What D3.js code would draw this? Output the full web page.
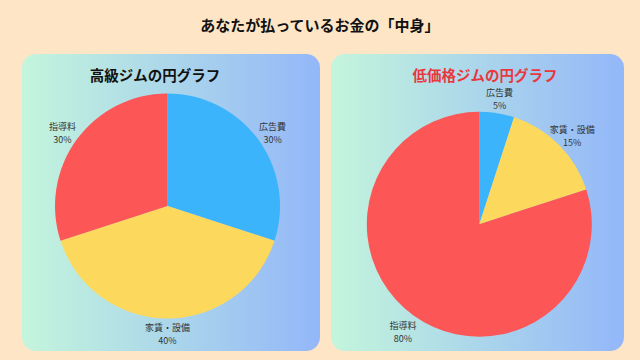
<!DOCTYPE html>
<html><head><meta charset="utf-8">
<script src="https://cdn.jsdelivr.net/npm/d3@7/dist/d3.min.js"></script>
<style>
html,body{margin:0;padding:0;background:#fde5c6;}
svg{display:block;}
text{font-family:"Noto Sans CJK JP","Noto Sans",sans-serif;}
</style></head>
<body>
<svg id="c" width="640" height="360"></svg>
<script>
const mainTitle = "あなたが払っているお金の「中身」";
const chartTitles = ["高級ジムの円グラフ", "低価格ジムの円グラフ"];
const categoriesHigh = ["広告費", "家賃・設備", "指導料"];
const valuesHigh = [30, 40, 30];
const categoriesLow = ["広告費", "家賃・設備", "指導料"];
const valuesLow = [5, 15, 80];
const sliceColors = {"広告費": "#3cb4fc", "家賃・設備": "#fcd95c", "指導料": "#fc5656"};

const svg = d3.select("#c");
const defs = svg.append("defs");
const grad = defs.append("linearGradient").attr("id","pg").attr("x1","0%").attr("x2","100%").attr("y1","0%").attr("y2","0%");
grad.append("stop").attr("offset","0%").attr("stop-color","#c4f5dc");
grad.append("stop").attr("offset","100%").attr("stop-color","#93b7f9");

svg.append("rect").attr("width",640).attr("height",360).attr("fill","#fde5c6");
svg.append("text").attr("x",320).attr("y",31).attr("text-anchor","middle")
  .attr("font-size",15).attr("font-weight","bold").attr("fill","#111").text(mainTitle);

const panels = [
  {x:22, y:54, w:298, h:297, cx:167.5, cy:206, r:112.5, title:chartTitles[0], tx:155, tcol:"#111", cats:categoriesHigh, vals:valuesHigh},
  {x:331, y:54, w:293, h:297, cx:479.3, cy:224.2, r:112.5, title:chartTitles[1], tx:485, tcol:"#e8383d", cats:categoriesLow, vals:valuesLow}
];

panels.forEach(p => {
  svg.append("rect").attr("x",p.x).attr("y",p.y).attr("width",p.w).attr("height",p.h)
    .attr("rx",14).attr("fill","url(#pg)");
  svg.append("text").attr("x",p.tx).attr("y",80.5).attr("text-anchor","middle")
    .attr("font-size",14.5).attr("font-weight","bold").attr("fill",p.tcol).text(p.title);
  const data = p.cats.map((c,i)=>({cat:c, v:p.vals[i]}));
  const pie = d3.pie().value(d=>d.v).sort(null);
  const arcs = pie(data);
  const arc = d3.arc().innerRadius(0).outerRadius(p.r);
  const g = svg.append("g").attr("transform",`translate(${p.cx},${p.cy})`);
  g.selectAll("path").data(arcs).join("path").attr("d",arc).attr("fill",d=>sliceColors[d.data.cat]);
  const angs = arcs.map(a => (a.startAngle + a.endAngle)/2);
  const minSep = 0.64;
  for (let i=1;i<angs.length;i++){ if (angs[i]-angs[i-1] < minSep) angs[i] = angs[i-1] + minSep; }
  const total = d3.sum(p.vals);
  const lr = p.r*1.155;
  const maxLy = (p.y + p.h) - p.cy - 20;
  arcs.forEach((a,i) => {
    const lx = lr*Math.sin(angs[i]);
    const ly = Math.min(-lr*Math.cos(angs[i]), maxLy);
    g.append("text").attr("x",lx).attr("y",ly).attr("text-anchor","middle")
      .attr("font-size",9).attr("fill","#333").text(a.data.cat);
    g.append("text").attr("x",lx).attr("y",ly+13).attr("text-anchor","middle")
      .attr("font-size",9).attr("fill","#333").text(Math.round(a.data.v/total*100)+"%");
  });
});
</script>
</body></html>
